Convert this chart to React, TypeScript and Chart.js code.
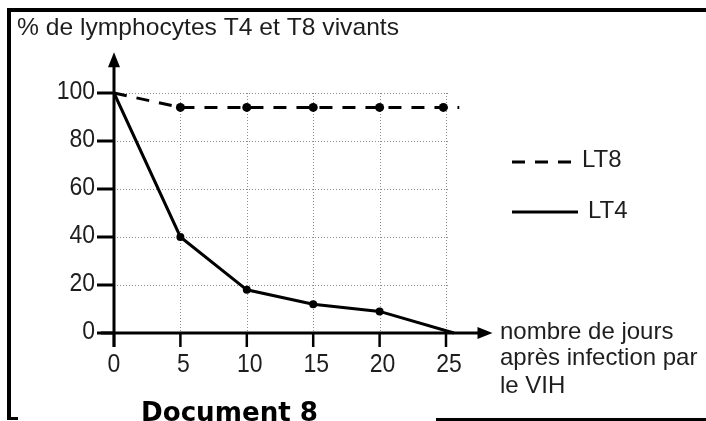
import React, { useEffect, useRef } from "react";
import { Chart, registerables } from "chart.js";
Chart.register(...registerables);

// ---- data ----
const lt8Days = [0, 5, 10, 15, 20, 24.8, 26];
const lt8Values = [100, 94, 94, 94, 94, 94, 94];
const lt8Radius = [0, 4.5, 4.5, 4.5, 4.5, 4.5, 0];
const lt4Days = [0, 5, 10, 15, 20, 25.6];
const lt4Values = [100, 40, 18, 12, 9, 0];
const lt4Radius = [0, 4, 4, 4, 4, 0];
const xTicks = [0, 5, 10, 15, 20, 25];
const yTicks = [0, 20, 40, 60, 80, 100];
const seriesNames = ["LT8", "LT4"];
const yTitle = "% de lymphocytes T4 et T8 vivants";
const xTitleLines = ["nombre de jours", "après infection par", "le VIH"];
const docLabel = "Document 8";

const SANS = '"Liberation Sans", Arial, sans-serif';

function txt(ctx: CanvasRenderingContext2D, s: string, x: number, y: number, font: string, align: CanvasTextAlign, baseline: CanvasTextBaseline, sy = 1, fitW = 0) {
  ctx.save();
  ctx.font = font;
  ctx.textAlign = align;
  ctx.textBaseline = baseline;
  ctx.translate(x, y);
  let sx = 1;
  if (fitW > 0) sx = fitW / ctx.measureText(s).width;
  ctx.scale(sx, sy);
  ctx.fillText(s, 0, 0);
  ctx.restore();
}

const docPlugin = {
  id: "docPlugin",
  beforeDatasetsDraw(chart: any) {
    const ctx: CanvasRenderingContext2D = chart.ctx;
    const xs = chart.scales.x, ys = chart.scales.y;
    ctx.save();
    ctx.strokeStyle = "#8c8c8c";
    ctx.lineWidth = 1;
    ctx.setLineDash([1, 2]);
    const top = ys.getPixelForValue(100), bottom = ys.getPixelForValue(0);
    const gx0 = xs.getPixelForValue(0), gx1 = xs.getPixelForValue(25.3);
    for (const t of yTicks) {
      if (t === 0) continue;
      const y = Math.round(ys.getPixelForValue(t)) + 0.5;
      ctx.beginPath(); ctx.moveTo(gx0, y); ctx.lineTo(gx1, y); ctx.stroke();
    }
    for (const t of xTicks) {
      if (t === 0) continue;
      const x = Math.round(xs.getPixelForValue(t)) + 0.5;
      ctx.beginPath(); ctx.moveTo(x, top); ctx.lineTo(x, bottom); ctx.stroke();
    }
    ctx.restore();
  },
  afterDatasetsDraw(chart: any) {
    const ctx: CanvasRenderingContext2D = chart.ctx;
    const xs = chart.scales.x, ys = chart.scales.y;
    const x0 = xs.getPixelForValue(0), y0 = ys.getPixelForValue(0);
    ctx.save();
    ctx.strokeStyle = "#000";
    ctx.fillStyle = "#000";
    ctx.setLineDash([]);
    ctx.lineWidth = 3;
    // y axis
    const tipY = ys.getPixelForValue(117);
    ctx.beginPath(); ctx.moveTo(x0, y0 + 14); ctx.lineTo(x0, tipY + 8); ctx.stroke();
    ctx.beginPath(); ctx.moveTo(x0, tipY); ctx.lineTo(x0 - 6, tipY + 15); ctx.lineTo(x0 + 6, tipY + 15); ctx.closePath(); ctx.fill();
    // x axis
    const tipX = xs.getPixelForValue(28.5);
    ctx.beginPath(); ctx.moveTo(x0 - 13, y0); ctx.lineTo(tipX - 8, y0); ctx.stroke();
    ctx.beginPath(); ctx.moveTo(tipX, y0); ctx.lineTo(tipX - 15, y0 - 6); ctx.lineTo(tipX - 15, y0 + 6); ctx.closePath(); ctx.fill();
    // y ticks
    for (const t of yTicks) {
      const y = ys.getPixelForValue(t);
      ctx.beginPath(); ctx.moveTo(x0 - 17, y); ctx.lineTo(x0, y); ctx.stroke();
    }
    ctx.lineWidth = 2.5;
    for (const t of xTicks) {
      const x = xs.getPixelForValue(t);
      ctx.beginPath(); ctx.moveTo(x, y0); ctx.lineTo(x, y0 + 14); ctx.stroke();
    }
    ctx.restore();
  },
  afterDraw(chart: any) {
    const ctx: CanvasRenderingContext2D = chart.ctx;
    const xs = chart.scales.x, ys = chart.scales.y;
    const x0 = xs.getPixelForValue(0), y0 = ys.getPixelForValue(0);
    ctx.save();
    ctx.fillStyle = "#1e1e1e";
    // tick labels
    for (const t of yTicks) {
      txt(ctx, String(t), x0 - 19, ys.getPixelForValue(t) - 1, `23px ${SANS}`, "right", "middle", 1.15);
    }
    for (const t of xTicks) {
      txt(ctx, String(t), xs.getPixelForValue(t) + (t === 0 ? 0 : 3), y0 + 32, `23px ${SANS}`, "center", "middle", 1.15);
    }
    // titles
    txt(ctx, yTitle, 17, 35, `24px ${SANS}`, "left", "alphabetic", 1, 382);
    const bl = [339, 365, 393];
    xTitleLines.forEach((l, i) => txt(ctx, l, 500, bl[i], `24px ${SANS}`, "left", "alphabetic", 1));
    // legend
    const ds = chart.data.datasets;
    ctx.strokeStyle = "#000";
    ctx.lineWidth = 3;
    ctx.setLineDash(ds[0].borderDash);
    ctx.beginPath(); ctx.moveTo(512, 162); ctx.lineTo(581, 162); ctx.stroke();
    ctx.setLineDash([]);
    ctx.beginPath(); ctx.moveTo(512, 212); ctx.lineTo(578, 212); ctx.stroke();
    txt(ctx, seriesNames[0], 582, 167, `24px ${SANS}`, "left", "alphabetic", 1);
    txt(ctx, seriesNames[1], 588, 218, `24px ${SANS}`, "left", "alphabetic", 1);
    // frame
    ctx.fillStyle = "#000";
    ctx.fillRect(7, 8, 699, 4);
    ctx.fillRect(7, 8, 4, 412);
    ctx.fillRect(7, 417, 11, 3);
    ctx.fillRect(436, 418, 270, 3);
    // document label
    ctx.fillStyle = "#000";
    txt(ctx, docLabel, 141, 421, `bold 26px "DejaVu Sans", Verdana, sans-serif`, "left", "alphabetic", 1, 177);
    ctx.restore();
  },
};

export default function App() {
  const ref = useRef<HTMLCanvasElement | null>(null);
  useEffect(() => {
    if (!ref.current) return;
    const chart = new Chart(ref.current, {
      type: "line",
      data: {
        datasets: [
          {
            label: seriesNames[0],
            data: lt8Days.map((d, i) => ({ x: d, y: lt8Values[i] })),
            borderColor: "#000",
            backgroundColor: "#000",
            borderWidth: 3,
            borderDash: [13, 10],
            pointRadius: lt8Radius,
            pointBorderWidth: 0,
            tension: 0,
            clip: false as any,
          },
          {
            label: seriesNames[1],
            data: lt4Days.map((d, i) => ({ x: d, y: lt4Values[i] })),
            borderColor: "#000",
            backgroundColor: "#000",
            borderWidth: 3,
            pointRadius: lt4Radius,
            pointBorderWidth: 0,
            tension: 0,
            clip: false as any,
          },
        ],
      },
      options: {
        animation: false,
        responsive: false,
        devicePixelRatio: 1,
        layout: { padding: { left: 114, top: 93, right: 193.6, bottom: 88 } },
        plugins: { legend: { display: false }, title: { display: false }, tooltip: { enabled: false } },
        events: [],
        scales: {
          x: { type: "linear", min: 0, max: 30, display: false },
          y: { type: "linear", min: 0, max: 100, display: false },
        },
      },
      plugins: [docPlugin],
    });
    return () => chart.destroy();
  }, []);
  return (
    <div style={{ position: "absolute", left: 0, top: 0, width: 706, height: 421, background: "#fff" }}>
      <canvas ref={ref} width={706} height={421} style={{ width: 706, height: 421, display: "block" }} />
    </div>
  );
}
